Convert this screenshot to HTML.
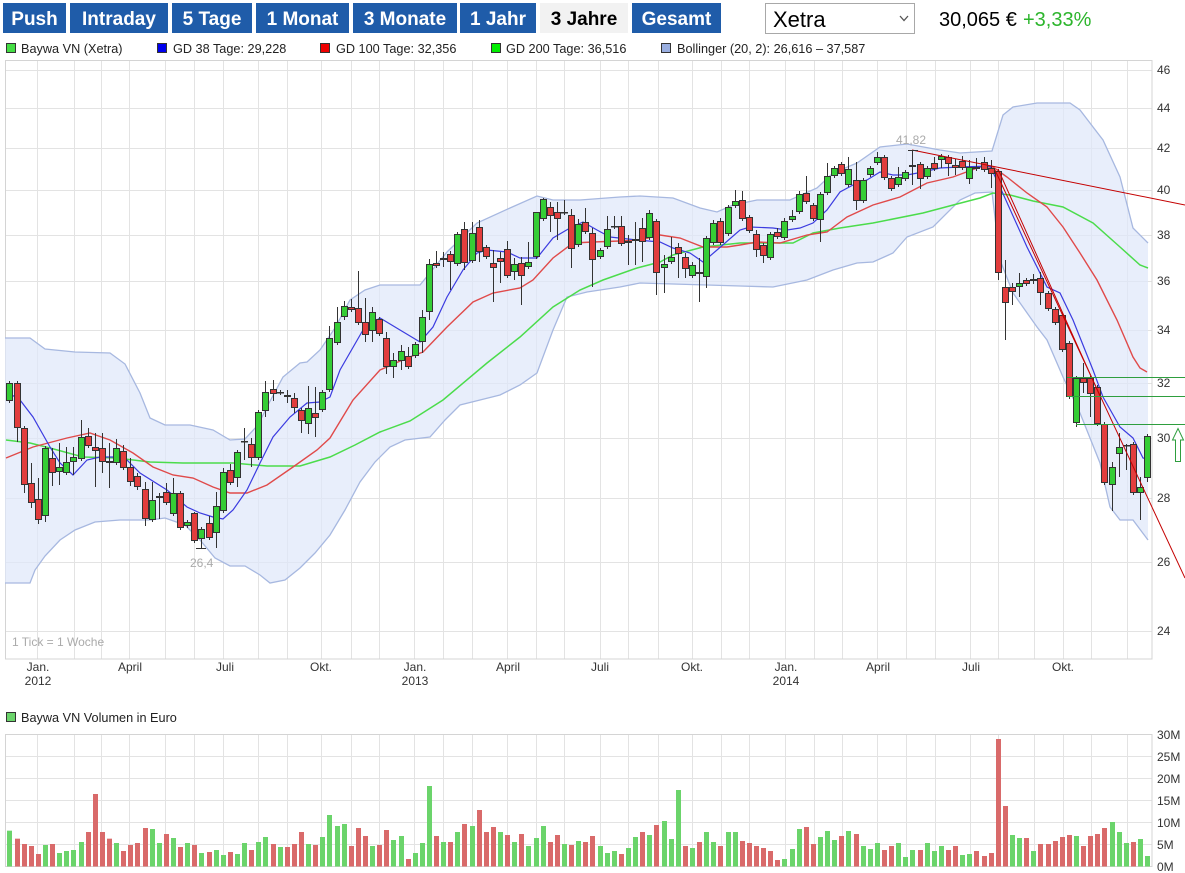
<!DOCTYPE html>
<html><head><meta charset="utf-8"><title>Baywa VN Chart</title>
<style>
html,body{margin:0;padding:0;background:#fff;}
svg{display:block;}
text{font-family:"Liberation Sans",Arial,sans-serif;}
.bt{fill:#fff;font-weight:bold;font-size:19px;text-anchor:middle;}
.ax{font-size:12px;fill:#333;}
.lg{font-size:12.7px;fill:#222;}
.xl{font-size:12px;fill:#333;text-anchor:middle;}
</style></head><body>
<svg id="s" width="1185" height="873" viewBox="0 0 1185 873" xmlns="http://www.w3.org/2000/svg">
<rect x="0" y="0" width="1185" height="873" fill="#fff"/>
<!-- toolbar -->
<rect x="3" y="3" width="63" height="30" fill="#1f5ca9"/><text class="bt" x="34.5" y="25">Push</text>
<rect x="70" y="3" width="98" height="30" fill="#1f5ca9"/><text class="bt" x="119" y="25">Intraday</text>
<rect x="172" y="3" width="80" height="30" fill="#1f5ca9"/><text class="bt" x="212" y="25">5 Tage</text>
<rect x="256" y="3" width="93" height="30" fill="#1f5ca9"/><text class="bt" x="302.5" y="25">1 Monat</text>
<rect x="353" y="3" width="104" height="30" fill="#1f5ca9"/><text class="bt" x="405" y="25">3 Monate</text>
<rect x="460" y="3" width="76" height="30" fill="#1f5ca9"/><text class="bt" x="498" y="25">1 Jahr</text>
<rect x="540" y="3" width="88" height="30" fill="#f2f2f2"/><text class="bt" x="584" y="25" style="fill:#000">3 Jahre</text>
<rect x="632" y="3" width="89" height="30" fill="#1f5ca9"/><text class="bt" x="676.5" y="25">Gesamt</text>
<rect x="765.5" y="3.5" width="149" height="30" fill="#fff" stroke="#a8a8a8"/>
<text x="773" y="27" style="font-size:22px;fill:#000">Xetra</text>
<polyline points="900,16 904,20.5 908,16" fill="none" stroke="#555" stroke-width="1.3"/>
<text x="939" y="26" style="font-size:20px;fill:#000">30,065 €</text>
<text x="1023" y="26" style="font-size:20px;fill:#2cb52c">+3,33%</text>
<!-- legend -->
<rect x="6.5" y="43.5" width="9" height="9" fill="#44dd44" stroke="#333"/><text class="lg" x="21" y="53">Baywa VN (Xetra)</text>
<rect x="157.5" y="43.5" width="9" height="9" fill="#0000ee" stroke="#333"/><text class="lg" x="173" y="53">GD 38 Tage: 29,228</text>
<rect x="320.5" y="43.5" width="9" height="9" fill="#ee0000" stroke="#333"/><text class="lg" x="336" y="53">GD 100 Tage: 32,356</text>
<rect x="491.5" y="43.5" width="9" height="9" fill="#00ee00" stroke="#333"/><text class="lg" x="506" y="53">GD 200 Tage: 36,516</text>
<rect x="661.5" y="43.5" width="9" height="9" fill="#99aee0" stroke="#333"/><text class="lg" x="677" y="53">Bollinger (20, 2): 26,616 – 37,587</text>
<g id="grid"></g>
<g id="band"></g>
<g id="ma"></g>
<g id="cand"></g>
<g id="over"></g>
<g id="vol"></g>
<!-- y labels -->
<text class="ax" x="1157" y="74">46</text>
<text class="ax" x="1157" y="112">44</text>
<text class="ax" x="1157" y="152">42</text>
<text class="ax" x="1157" y="194">40</text>
<text class="ax" x="1157" y="239">38</text>
<text class="ax" x="1157" y="285">36</text>
<text class="ax" x="1157" y="334">34</text>
<text class="ax" x="1157" y="387">32</text>
<text class="ax" x="1157" y="442">30</text>
<text class="ax" x="1157" y="502">28</text>
<text class="ax" x="1157" y="566">26</text>
<text class="ax" x="1157" y="635">24</text>
<!-- x labels -->
<text class="xl" x="38" y="671">Jan.</text><text class="xl" x="38" y="685">2012</text>
<text class="xl" x="130" y="671">April</text>
<text class="xl" x="225" y="671">Juli</text>
<text class="xl" x="321" y="671">Okt.</text>
<text class="xl" x="415" y="671">Jan.</text><text class="xl" x="415" y="685">2013</text>
<text class="xl" x="508" y="671">April</text>
<text class="xl" x="600" y="671">Juli</text>
<text class="xl" x="692" y="671">Okt.</text>
<text class="xl" x="786" y="671">Jan.</text><text class="xl" x="786" y="685">2014</text>
<text class="xl" x="878" y="671">April</text>
<text class="xl" x="971" y="671">Juli</text>
<text class="xl" x="1063" y="671">Okt.</text>
<text x="12" y="646" style="font-size:12px;fill:#aaa">1 Tick = 1 Woche</text>
<text x="896" y="144" style="font-size:12px;fill:#aaa">41,82</text>
<text x="190" y="567" style="font-size:12px;fill:#aaa">26,4</text>
<!-- volume legend and labels -->
<rect x="6.5" y="712.5" width="9" height="9" fill="#6bd46b" stroke="#333"/><text class="lg" x="21" y="722">Baywa VN Volumen in Euro</text>
<text class="ax" x="1157" y="739">30M</text>
<text class="ax" x="1157" y="761">25M</text>
<text class="ax" x="1157" y="783">20M</text>
<text class="ax" x="1157" y="805">15M</text>
<text class="ax" x="1157" y="827">10M</text>
<text class="ax" x="1157" y="849">5M</text>
<text class="ax" x="1157" y="871">0M</text>
</svg>
<script>
(function(){
var NS="http://www.w3.org/2000/svg";
function el(tag,a,p){var e=document.createElementNS(NS,tag);for(var k in a)e.setAttribute(k,a[k]);p.appendChild(e);return e;}
var G=document.getElementById('grid'),B=document.getElementById('band'),M=document.getElementById('ma'),CA=document.getElementById('cand'),O=document.getElementById('over'),V=document.getElementById('vol');
var months=[37,73.5,101,129,165,194,223,258,287,321,351,379,414,443,472,507,536,564,599.5,628,657.5,691.7,721,749,785.4,814,842,876.5,906,934.6,969.5,998,1034,1062.5,1091,1127];
var py=[70,108.3,148.3,190,235,281,330,382.7,438,498,561.5,630.5];
var gc="#e3e3e3";
months.forEach(function(x){x=Math.round(x)+0.5;el('line',{x1:x,y1:61,x2:x,y2:659,stroke:gc},G);el('line',{x1:x,y1:734,x2:x,y2:867,stroke:gc},G);});
py.forEach(function(y){y=Math.round(y)+0.5;el('line',{x1:5.5,y1:y,x2:1152,y2:y,stroke:gc},G);});
[734,756,778,800,822,844].forEach(function(y){el('line',{x1:5.5,y1:y+0.5,x2:1152,y2:y+0.5,stroke:gc},G);});
el('rect',{x:5.5,y:60.5,width:1146.5,height:598.5,fill:'none',stroke:'#d4d4d4'},G);
el('rect',{x:5.5,y:734.5,width:1146.5,height:132,fill:'none',stroke:'#d4d4d4'},G);
var up=[[5,338],[30,338],[45,349],[75,352],[110,353],[125,364],[140,393],[150,418],[165,425],[190,425],[213,430],[230,440],[245,439],[258,425],[268,405],[283,377],[300,363],[307,362],[320,350],[335,328],[350,300],[365,290],[380,285],[420,285],[447,252],[477,223],[510,208],[537,196],[553,200],[580,200],[620,197],[640,196],[673,198],[700,208],[717,212],[733,205],[757,200],[790,200],[817,188],[833,173],[857,163],[880,147],[907,144],[940,150],[960,153],[992,151],[1003,115],[1013,107],[1037,103],[1070,103],[1080,110],[1103,140],[1120,177],[1133,228],[1148,243]];
var lo=[[5,583],[30,583],[35,570],[45,556],[60,540],[75,530],[95,522],[120,520],[150,520],[165,518],[185,525],[200,540],[215,558],[230,566],[245,566],[260,575],[270,583],[285,580],[300,568],[315,553],[330,535],[345,510],[360,482],[375,462],[390,447],[405,440],[430,437],[445,420],[460,405],[480,400],[500,395],[520,385],[537,373],[553,330],[567,297],[587,292],[620,287],[640,283],[673,284],[707,285],[740,286],[773,287],[807,280],[833,270],[857,263],[873,262],[893,253],[907,237],[933,227],[960,200],[975,193],[992,192],[1000,260],[1013,293],[1037,327],[1047,340],[1063,377],[1080,413],[1100,463],[1110,507],[1120,520],[1133,520],[1148,540]];
function pts(a){return a.map(function(p){return p[0]+','+p[1];}).join(' ');}
el('polygon',{points:pts(up.concat(lo.slice().reverse())),fill:'#dfe8fa','fill-opacity':'0.72',stroke:'none'},B);
el('polyline',{points:pts(up),fill:'none',stroke:'#a7b8e0','stroke-width':1.3},B);
el('polyline',{points:pts(lo),fill:'none',stroke:'#a7b8e0','stroke-width':1.3},B);
var g200=[[6,440],[30,443],[50,448],[83,457],[117,458],[150,462],[183,463],[233,463],[267,466],[300,466],[330,457],[355,445],[380,432],[410,421],[443,400],[487,363],[520,337],[553,307],[580,290],[603,280],[637,268],[660,262],[673,255],[703,247],[740,243],[773,243],[793,243],[813,233],[840,228],[873,223],[923,213],[957,204],[980,198],[993,193],[1010,195],[1033,201],[1063,207],[1093,223],[1120,247],[1140,265],[1148,268]];
var g100=[[6,458],[33,447],[67,438],[90,433],[110,440],[133,453],[153,467],[173,475],[193,478],[213,487],[230,493],[247,493],[267,485],[293,467],[317,450],[330,438],[353,400],[380,370],[407,358],[423,352],[447,327],[473,302],[493,293],[520,288],[533,280],[553,258],[573,243],[593,242],[620,241],[640,240],[660,235],[680,238],[703,247],[727,247],[740,245],[757,242],[780,243],[807,235],[827,232],[847,217],[873,205],[900,197],[927,183],[953,177],[980,167],[993,167],[1007,177],[1027,193],[1047,207],[1063,227],[1080,253],[1097,280],[1117,320],[1133,357],[1140,368],[1147,372]];
var g38=[[12,395],[20,400],[33,417],[50,447],[60,463],[73,475],[87,460],[100,457],[113,457],[127,460],[140,473],[167,490],[187,507],[200,513],[213,517],[223,519],[233,510],[247,490],[260,463],[273,437],[290,417],[307,403],[320,402],[330,397],[340,370],[363,330],[380,318],[400,330],[420,342],[433,327],[447,297],[463,270],[477,253],[487,250],[507,252],[520,258],[537,258],[553,238],[570,228],[583,222],[597,230],[610,237],[637,240],[660,242],[673,248],[690,253],[703,262],[717,250],[740,230],[750,227],[773,228],[787,230],[800,228],[813,223],[827,210],[840,192],[853,185],[867,180],[880,172],[893,175],[907,175],[923,172],[940,168],[960,167],[990,166],[1000,187],[1027,247],[1047,287],[1060,293],[1073,320],[1093,370],[1103,397],[1120,427],[1133,438],[1143,458],[1147,459]];
el('polyline',{points:pts(g200),fill:'none',stroke:'#4bdc4b','stroke-width':1.5},M);
el('polyline',{points:pts(g100),fill:'none',stroke:'#e04a4a','stroke-width':1.4},M);
el('polyline',{points:pts(g38),fill:'none',stroke:'#3b3be0','stroke-width':1.2},M);
var C=[
['g',383,401,381,403],['r',383,428,381,442],['r',428,485,426,493],['r',483,503,463,508],['r',499,520,478,524],['g',448,516,446,522],['r',458,473,448,486],['g',467,472,443,485],['g',462,473,447,475],['g',457,462,447,475],
['g',437,459,420,461],['r',436,446,428,448],['r',447,451,433,487],['r',448,462,433,473],['d',461,463,443,488],['g',448,463,439,465],['r',451,468,445,470],['r',467,482,458,486],['r',476,487,473,490],['r',489,519,482,526],
['g',500,520,482,522],['d',496,498,493,519],['r',492,503,483,505],['g',493,514,478,516],['r',493,528,491,530],['d',522,526,520,528],['r',513,541,512,543],['g',529,539,527,548],['r',523,538,516,540],['g',506,533,492,548],
['g',472,511,468,513],['r',470,483,464,485],['g',452,478,450,487],['d',441,442,428,460],['r',444,458,438,467],['g',412,458,410,460],['g',392,411,381,417],['r',389,394,380,401],['r',392,393,390,395],['r',395,397,390,403],
['r',398,408,393,413],['r',410,421,408,433],['g',408,424,386,434],['r',413,418,387,437],['g',392,410,390,412],['g',338,390,326,392],['g',322,343,307,345],['g',306,317,301,320],['r',307,310,299,312],['r',308,323,271,325],
['r',322,335,298,342],['g',312,331,307,342],['r',319,334,317,336],['r',338,367,332,374],['g',360,367,353,378],['g',351,361,345,370],['r',356,367,347,369],['g',344,356,342,358],['g',317,342,310,353],['g',264,312,259,320],
['r',263,266,251,268],['r',258,260,252,267],['r',254,262,251,290],['g',234,264,232,266],['r',229,263,222,270],['g',233,261,222,263],['r',227,252,220,262],['r',247,257,245,259],['r',263,268,250,302],['r',258,262,252,283],
['r',249,276,241,278],['g',264,272,258,280],['r',263,276,257,305],['g',262,267,242,269],['g',212,257,212,259],['g',199,219,198,221],['r',207,216,202,232],['r',212,219,202,240],['d',212,213,200,215],['r',215,249,209,268],
['g',224,245,219,247],['r',222,232,208,234],['r',233,260,228,287],['g',250,257,248,259],['g',229,247,216,249],['d',226,227,216,229],['r',226,244,216,246],['g',241,243,235,265],['d',239,241,222,265],['r',228,242,218,262],
['g',213,238,210,240],['r',221,273,219,295],['g',264,268,255,293],['g',257,262,237,264],['r',247,254,243,278],['r',257,269,253,278],['g',265,276,262,278],['r',272,274,258,302],['g',238,277,236,288],['g',223,243,220,245],
['r',221,243,218,245],['g',207,234,205,236],['g',201,206,190,208],['r',200,219,191,221],['r',217,231,215,233],['r',234,250,230,257],['r',245,256,243,263],['g',234,258,232,260],['r',232,237,228,239],['g',221,238,218,240],
['g',216,220,210,222],['g',194,212,191,214],['r',193,202,176,204],['r',205,219,203,221],['g',194,220,192,242],['g',176,193,163,195],['g',168,176,166,178],['r',164,174,162,176],['g',169,185,157,187],['r',180,201,162,210],
['g',180,201,178,203],['g',168,175,166,177],['g',157,163,152,165],['r',157,178,155,180],['r',178,189,176,191],['g',177,185,167,187],['g',172,179,170,181],['r',165,167,151,185],['r',164,179,162,189],['g',168,177,166,179],
['r',163,169,157,171],['g',156,160,154,168],['r',157,164,155,176],['r',165,168,159,175],['r',161,168,156,170],['g',167,179,160,184],['d',167,169,158,171],['r',162,170,157,172],['r',168,174,160,188],['r',171,273,169,280],
['r',287,303,260,340],['r',287,292,283,305],['g',283,287,273,297],['r',280,284,278,286],['r',279,281,274,284],['r',278,293,272,305],['r',293,309,291,311],['r',309,323,307,325],['r',315,350,313,352],['r',343,397,341,399],
['g',378,423,376,427],['r',378,383,363,393],['r',378,394,376,417],['r',387,424,385,426],['r',424,483,422,485],['g',467,485,462,511],['g',447,454,433,477],['d',445,446,444,470],['r',444,493,442,495],['g',487,493,477,520],
['g',436,478,434,482]];
var VT=[332,356,372,378,402,375,372,399,393,390,366,336,222,336,356,369,393,375,369,324,327,369,342,354,381,369,375,399,396,390,405,396,402,369,390,366,351,372,381,381,372,336,372,375,351,285,318,312,378,324,348,378,375,330,360,348,417,399,369,198,348,366,366,336,312,318,270,336,321,336,345,366,342,378,354,318,366,345,372,375,363,366,348,378,
399,393,402,384,351,336,345,315,303,357,210,378,384,366,336,366,378,336,336,363,369,378,384,393,420,417,387,327,321,372,351,333,360,348,333,342,378,387,369,390,378,369,411,390,390,369,393,378,390,378,405,402,393,408,399,57,258,345,354,354,393,372,372,363,351,345,348,378,348,342,324,306,336,369,366,357,408];
var VC="grrrrgrggggrrrrgrrrrggrgrgrgrggrggrggrgrrrgrggggrrrgrrggrgggrgrgrgrrrgrgrgggrrgrgrrg"+"ggrggrgrgggrgrggrggrrrrrrgggrrgggrgrgggrrgggrgggrrggrrrrrggrgrrrrrgrrrrgggrgg";
var step=7.11,x0=9.7;
for(var i=0;i<C.length;i++){
  var c=C[i],x=Math.round((x0+step*i)*2)/2;
  var vc=VC.charAt(i)||'g';
  var t=c[0]==='d'?vc:c[0];
  var fill=t==='g'?'#35cd35':'#e23d3d';
  var xc=Math.floor(x)+0.5;
  el('line',{x1:xc,y1:c[3],x2:xc,y2:c[4],stroke:'#333','stroke-width':1},CA);
  var h=c[2]-c[1];
  if(h<2){el('rect',{x:xc-3.5,y:c[1],width:7,height:Math.max(h,1.5),fill:'#333'},CA);}
  else{el('rect',{x:xc-3,y:c[1]+0.5,width:6,height:h-1,fill:fill,stroke:'#333','stroke-width':1},CA);}
  var vt=720+VT[i]/3;
  el('rect',{x:xc-2.5,y:vt,width:5,height:866.5-vt,fill:vc==='g'?'#6bd46b':'#d96a6a'},V);
}
el('line',{x1:912,y1:150,x2:1185,y2:205,stroke:'#c40000','stroke-width':1},O);
el('line',{x1:995,y1:170,x2:1185,y2:578,stroke:'#c40000','stroke-width':1},O);
el('line',{x1:998,y1:169,x2:1100,y2:396,stroke:'#c40000','stroke-width':1},O);
el('line',{x1:1067,y1:377.5,x2:1185,y2:377.5,stroke:'#2e9e3e','stroke-width':1},O);
el('line',{x1:1067,y1:396.5,x2:1185,y2:396.5,stroke:'#2e9e3e','stroke-width':1},O);
el('line',{x1:1076,y1:424.5,x2:1185,y2:424.5,stroke:'#2e9e3e','stroke-width':1},O);
el('polygon',{points:'1178,428.5 1183.5,440 1180.5,440 1180.5,461.5 1175.5,461.5 1175.5,440 1172.5,440',fill:'#fff',stroke:'#2e9e3e','stroke-width':1},O);
el('line',{x1:908,y1:150.5,x2:918,y2:150.5,stroke:'#333','stroke-width':1},O);
el('line',{x1:196,y1:548.5,x2:206,y2:548.5,stroke:'#333','stroke-width':1},O);
})();
</script>
</body></html>
